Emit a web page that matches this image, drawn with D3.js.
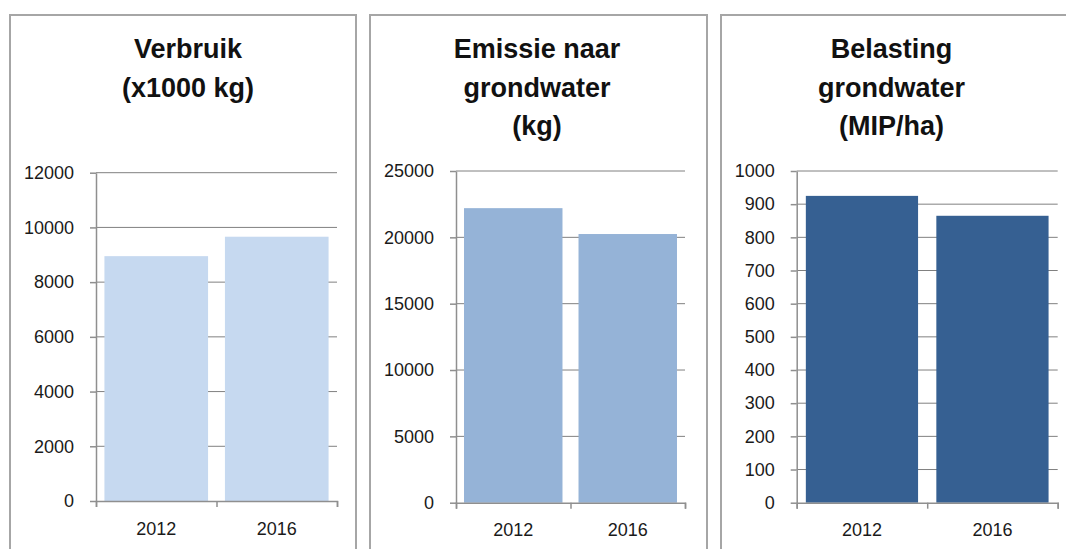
<!DOCTYPE html>
<html>
<head>
<meta charset="utf-8">
<script src="https://cdn.jsdelivr.net/npm/d3@7"></script>
<style>
  body { margin: 0; background: #fff; }
  svg  { display: block; }
</style>
</head>
<body>
<svg width="1066" height="549"></svg>
<script>
// data
const years = ["2012", "2016"];

const verbruik  = [8950, 9660];    // x1000 kg
const emissie   = [22200, 20250];  // kg
const belasting = [925, 865];      // MIP/ha

const verbruikTicks  = [0, 2000, 4000, 6000, 8000, 10000, 12000];
const emissieTicks   = [0, 5000, 10000, 15000, 20000, 25000];
const belastingTicks = [0, 100, 200, 300, 400, 500, 600, 700, 800, 900, 1000];

const titles = [
  ["Verbruik", "(x1000 kg)"],
  ["Emissie naar", "grondwater", "(kg)"],
  ["Belasting", "grondwater", "(MIP/ha)"]
];

// layout of the three panels
const panels = [
  { box: [10, 356],   titleX: 188,   plot: [96, 337],       zero: 501,   top: 172.7, values: verbruik,  ticks: verbruikTicks,  color: "#c6d9f0" },
  { box: [370, 707],  titleX: 537,   plot: [456, 685],      zero: 502.7, top: 171,   values: emissie,   ticks: emissieTicks,   color: "#95b3d7" },
  { box: [721, 1075], titleX: 891.5, plot: [796.7, 1057.7], zero: 502.7, top: 171,   values: belasting, ticks: belastingTicks, color: "#366092" }
];

const svgEl = d3.select("svg");
const font  = "'Liberation Sans', Arial, sans-serif";

panels.forEach((p, i) => {
  const g = svgEl.append("g");

  // panel frame (open at the bottom)
  g.append("path")
    .attr("d", `M${p.box[0]},560 V15 H${p.box[1]} V560`)
    .attr("fill", "none")
    .attr("stroke", "#a6a6a6")
    .attr("stroke-width", 2);

  // title
  g.append("text")
    .attr("text-anchor", "middle")
    .attr("font-family", font)
    .attr("font-weight", "bold")
    .attr("font-size", 27)
    .attr("fill", "#111")
    .selectAll("tspan")
    .data(titles[i])
    .join("tspan")
      .attr("x", p.titleX)
      .attr("y", (d, j) => 58 + j * 38.5)
      .text(d => d);

  const yMax = p.ticks[p.ticks.length - 1];
  const y = d3.scaleLinear().domain([0, yMax]).range([p.zero, p.top]);

  const x = d3.scaleBand()
    .domain(years)
    .range(p.plot)
    .paddingInner(0.14)
    .paddingOuter(0.07);

  // gridlines
  g.append("g")
    .selectAll("line")
    .data(p.ticks.filter(t => t > 0))
    .join("line")
      .attr("x1", p.plot[0])
      .attr("x2", p.plot[1])
      .attr("y1", d => y(d))
      .attr("y2", d => y(d))
      .attr("stroke", "#808080")
      .attr("stroke-width", 1);

  // bars
  g.append("g")
    .selectAll("rect")
    .data(p.values)
    .join("rect")
      .attr("x", (d, j) => x(years[j]))
      .attr("y", d => y(d))
      .attr("width", x.bandwidth())
      .attr("height", d => y(0) - y(d))
      .attr("fill", p.color);

  // y axis
  const yAxis = g.append("g")
    .attr("transform", `translate(${p.plot[0]},0)`)
    .call(d3.axisLeft(y).tickValues(p.ticks).tickFormat(d3.format("d"))
      .tickSize(6).tickPadding(16).tickSizeOuter(0));
  yAxis.select(".domain").attr("stroke", "#8f8f8f").attr("stroke-width", 1.5);
  yAxis.selectAll(".tick line").attr("stroke", "#8f8f8f").attr("stroke-width", 1.5);
  yAxis.selectAll("text")
    .attr("font-family", font)
    .attr("font-size", 18)
    .attr("fill", "#1a1a1a");

  // x axis: boundary ticks between categories
  const xb = d3.scaleLinear().domain([0, years.length]).range(p.plot);
  const xAxis = g.append("g")
    .attr("transform", `translate(0,${p.zero})`)
    .call(d3.axisBottom(xb).ticks(years.length).tickFormat("").tickSize(6).tickSizeOuter(6));
  xAxis.select(".domain").attr("stroke", "#8f8f8f").attr("stroke-width", 1.5);
  xAxis.selectAll(".tick line").attr("stroke", "#8f8f8f").attr("stroke-width", 1.5);

  // category labels
  const xLab = g.append("g")
    .attr("transform", `translate(0,${p.zero})`)
    .call(d3.axisBottom(x).tickSize(0).tickPadding(21));
  xLab.select(".domain").remove();
  xLab.selectAll("text")
    .attr("font-family", font)
    .attr("font-size", 18)
    .attr("fill", "#1a1a1a");
});
</script>
</body>
</html>
